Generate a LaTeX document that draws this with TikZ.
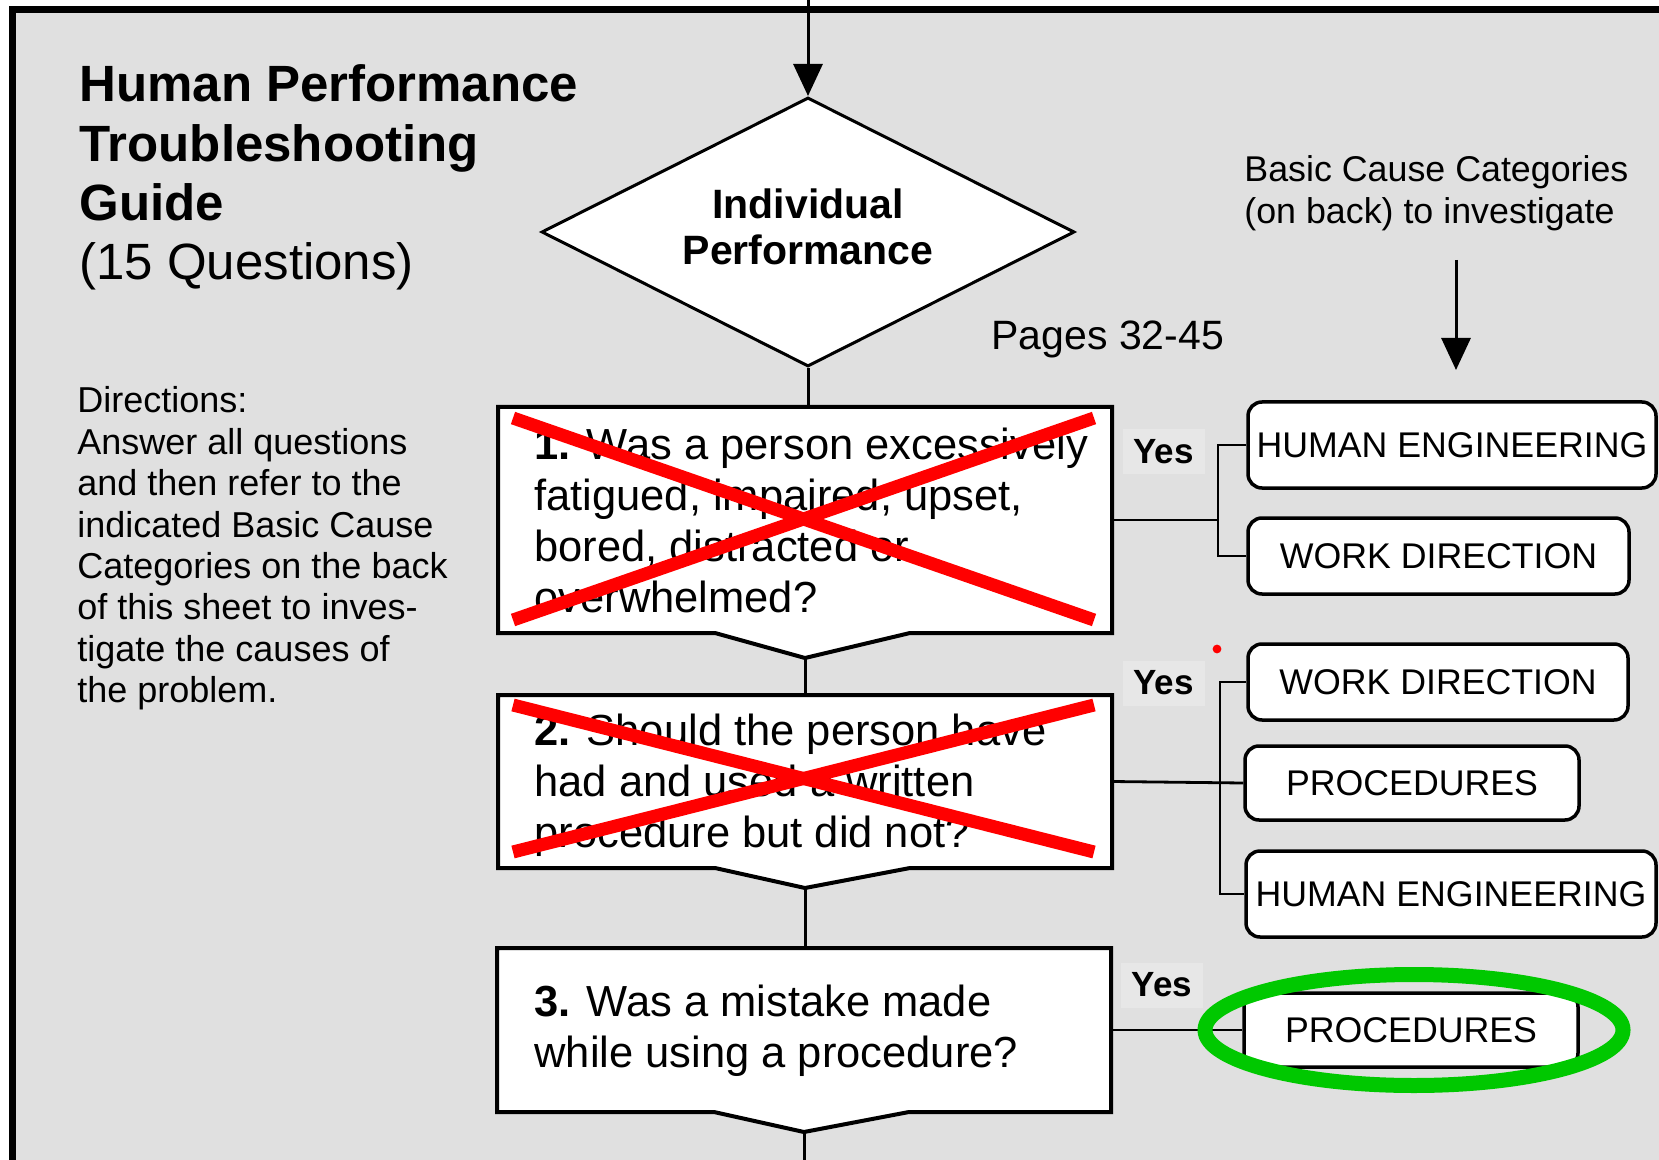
\documentclass[tikz,border=0pt]{standalone}
\usepackage{fontspec}
\setmainfont{Liberation Sans}
\usetikzlibrary{shapes.geometric,arrows.meta,calc}
\definecolor{panelgray}{RGB}{224,224,224}
\definecolor{yesgray}{RGB}{231,231,231}
\definecolor{crossred}{RGB}{255,0,0}
\definecolor{ringgreen}{RGB}{0,200,0}
% stacked lines whose baseline is the first line's baseline
\newcommand\textlines[1]{\begin{tabular}[t]{@{}l@{}}#1\end{tabular}}
\newcommand\fsz[2]{\fontsize{#1}{#2}\selectfont}
% outline of a question box with its V-shaped bottom notch
\newcommand\questionoutline[3]{%
  \draw[qline] (#1.north west) -- (#1.north east) -- (#1.south east)
    -- ($(#1.south)+(105,0)$) -- ($(#1.south)+(0,#2)$) coordinate (#3)
    -- ($(#1.south)+(-90,0)$) -- (#1.south west) -- cycle;}
\begin{document}
\begin{tikzpicture}[x=0.5pt,y=-0.5pt,
  qline/.style={draw=black,line width=2pt,fill=white,line join=miter},
  qframe/.style={inner sep=0pt,outer sep=0pt,draw=none,minimum width=307pt},
  qtext/.style={inner sep=0pt,anchor=base west,font=\fsz{21.75}{25.5}},
  plaintext/.style={inner sep=0pt,anchor=base west},
  catbox/.style={draw=black,line width=1.75pt,fill=white,rounded corners=7pt,
    inner sep=0pt,font=\fsz{17.85}{20}},
  yeslabel/.style={fill=yesgray,inner sep=0pt,minimum width=41pt,
    minimum height=22.5pt,font=\bfseries\fsz{17.5}{20}},
  link/.style={line width=1.4pt},
  flow/.style={line width=1.5pt},
  arrowflow/.style={line width=1.5pt,-{Triangle[length=16pt,width=14.5pt]}},
  redx/.style={draw=crossred,line width=6.5pt,line cap=butt},
]
\useasboundingbox (0,0) rectangle (1659,1160);
% sheet and panel
\fill[white] (0,0) rectangle (1659,1160);
\fill[panelgray] (12,10) rectangle (1659,1160);
\draw[line width=3.5pt] (12,1160) -- (12,10) -- (1659,10);

% heading and directions
\node[plaintext,font=\fsz{25.5}{29.65}] (title) at (79,102)
  {\textlines{\textbf{Human Performance}\\\textbf{Troubleshooting}\\\textbf{Guide}\\(15 Questions)}};
\node[plaintext,font=\fsz{18}{20.7}] (directions) at (77,413)
  {\textlines{Directions:\\Answer all questions\\and then refer to the\\indicated Basic Cause\\Categories on the back\\of this sheet to inves-\\tigate the causes of\\the problem.}};

% decision diamond
\node[diamond,shape aspect=2,draw,line width=1.5pt,fill=white,inner sep=0pt,
  minimum width=266.5pt,minimum height=134.5pt,font=\bfseries\fsz{20.5}{23}]
  (perf) at (808,232) {\begin{tabular}{@{}c@{}}Individual\\Performance\end{tabular}};
\coordinate (entry) at (808,0);
\draw[arrowflow] (entry) -- (perf.north);

\node[plaintext,font=\fsz{20.5}{23}] (pages) at (991,350) {Pages 32-45};
\node[plaintext,font=\fsz{17.9}{21}] (basic) at (1244,182)
  {\textlines{Basic Cause Categories\\(on back) to investigate}};
\coordinate (catarrowtop) at (1456,260);
\coordinate (catarrowtip) at (1456,370);
\draw[arrowflow] (catarrowtop) -- (catarrowtip);

% question frames
\node[qframe,minimum height=113pt] (q1) at (805,520) {};
\node[qframe,minimum height=86.5pt] (q2) at (805,781.5) {};
\node[qframe,minimum height=82pt] (q3) at (804,1030) {};

% category boxes
\node[catbox,minimum width=204pt,minimum height=43pt] (he1) at (1452,445) {HUMAN ENGINEERING};
\node[catbox,minimum width=190.5pt,minimum height=38pt] (wd1) at (1438.5,556) {WORK DIRECTION};
\node[catbox,minimum width=190pt,minimum height=38pt] (wd2) at (1438,682) {WORK DIRECTION};
\node[catbox,minimum width=167pt,minimum height=37pt] (proc2) at (1412,783) {PROCEDURES};
\node[catbox,minimum width=205pt,minimum height=43pt] (he2) at (1451,894) {HUMAN ENGINEERING};
\node[catbox,minimum width=167pt,minimum height=37pt] (proc3) at (1411,1030) {PROCEDURES};

% question box outlines
\questionoutline{q1}{25}{q1tip}
\questionoutline{q2}{20}{q2tip}
\questionoutline{q3}{20}{q3tip}

% main flow
\coordinate (exit) at (805,1160);
\draw[flow] (perf.south) -- (perf.south |- q1.north);
\draw[flow] (q1tip) -- (q1tip |- q2.north);
\draw[flow] (q2tip) -- (q2tip |- q3.north);
\draw[flow] (q3tip) -- (q3tip |- exit);

% yes branches
\coordinate (j1) at ([xshift=53pt]q1.east);
\draw[link] (q1.east) -- (j1);
\draw[link] (he1.west) -| (j1) |- (wd1.west);
\coordinate (j2) at ([xshift=54pt]q2.east);
\draw[link] (q2.east) -- (proc2.west);
\draw[link] (wd2.west) -| (j2) |- (he2.west);
\draw[link] (q3.east) -- (proc3.west);

\node[yeslabel] (yes1) at (1163.5,451.5) {Yes};
\node[yeslabel] (yes2) at (1163.5,683) {Yes};
\node[yeslabel] (yes3) at (1162,985) {Yes};

% question texts
\node[qtext] (q1text) at (534,459)
  {\textlines{\textbf{1.} Was a person excessively\\fatigued, impaired, upset,\\bored, distracted or\\overwhelmed?}};
\node[qtext] (q2text) at (534,745)
  {\textlines{\textbf{2.} Should the person have\\had and used a written\\procedure but did not?}};
\node[qtext] (q3text) at (534,1016)
  {\textlines{\textbf{3.} Was a mistake made\\while using a procedure?}};

% hand-drawn marks
\draw[redx] (513,418) -- (1094,620);
\draw[redx] (513,620) -- (1094,418);
\draw[redx] (513,705) -- (1094,852);
\draw[redx] (513,852) -- (1094,705);
\fill[crossred] (1217,649) circle[radius=2.2pt];
\node[ellipse,draw=ringgreen,line width=7.5pt,inner sep=0pt,
  minimum width=209pt,minimum height=55.5pt] (ring) at (1414,1030) {};
\end{tikzpicture}
\end{document}
